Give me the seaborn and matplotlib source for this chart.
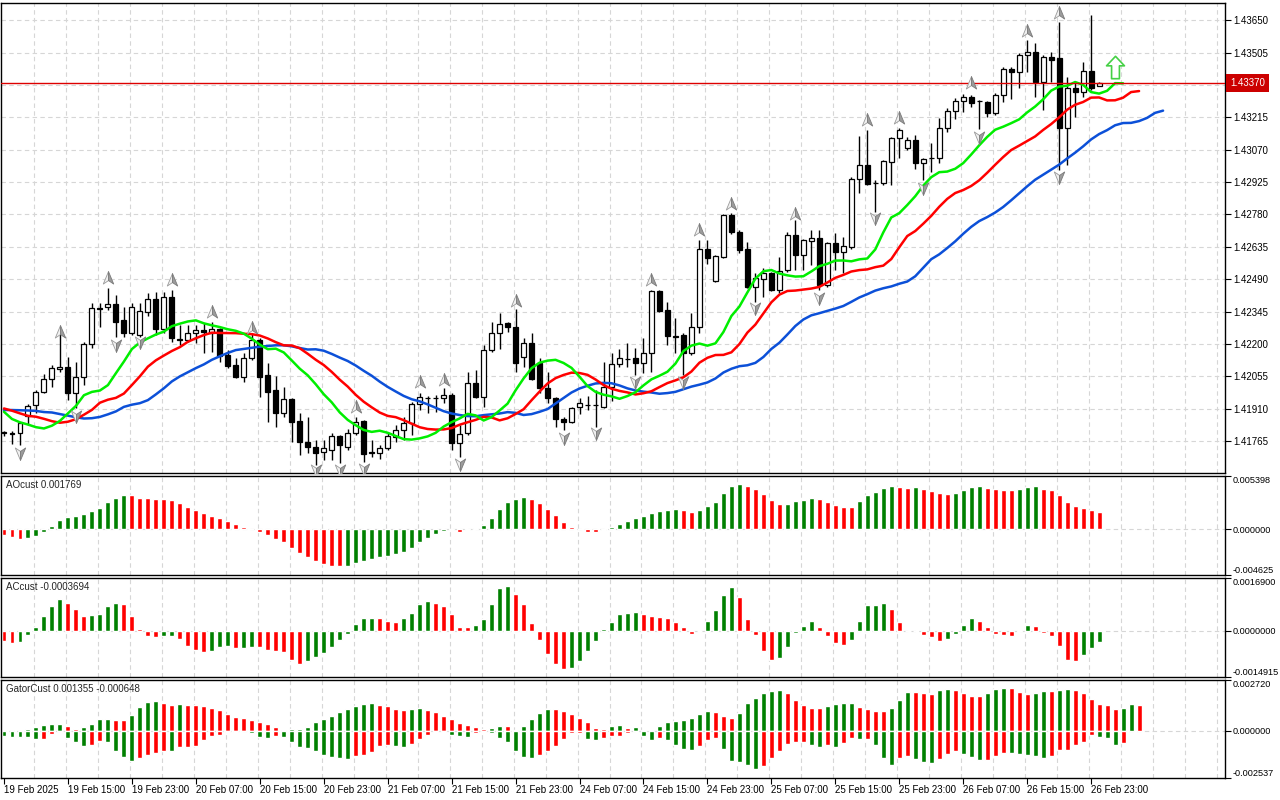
import numpy as np
import matplotlib
matplotlib.use("Agg")
import matplotlib.pyplot as plt
from matplotlib.path import Path
from matplotlib.markers import MarkerStyle
import seaborn as sns

sns.set_style("white")
plt.rcParams['font.family'] = ['Liberation Sans', 'DejaVu Sans']

POINT = 0.00001

# H1 candles
open_ = [
    1.41805, 1.41800, 1.41801, 1.41877, 1.41926, 1.41985, 1.42043, 1.42088, 1.42097, 1.41980,
    1.42052, 1.42200, 1.42361, 1.42365, 1.42379, 1.42307, 1.42249, 1.42240, 1.42343, 1.42401,
    1.42267, 1.42410, 1.42222, 1.42218, 1.42249, 1.42262, 1.42249, 1.42267, 1.42150, 1.42105,
    1.42052, 1.42137, 1.42218, 1.42061, 1.41994, 1.41891, 1.41953, 1.41855, 1.41761, 1.41738,
    1.41716, 1.41725, 1.41788, 1.41738, 1.41801, 1.41855, 1.41714, 1.41712, 1.41734, 1.41783,
    1.41814, 1.41846, 1.41931, 1.41958, 1.41960, 1.41958, 1.41971, 1.41756, 1.41801, 1.42025,
    1.41962, 1.42173, 1.42249, 1.42294, 1.42276, 1.42141, 1.42204, 1.42115, 1.42003, 1.41958,
    1.41864, 1.41850, 1.41917, 1.41926, 1.41928, 1.41917, 1.42007, 1.42110, 1.42132, 1.42137,
    1.42115, 1.42159, 1.42437, 1.42352, 1.42235, 1.42240, 1.42159, 1.42276, 1.42625, 1.42482,
    1.42589, 1.42777, 1.42701, 1.42625, 1.42455, 1.42491, 1.42517, 1.42441, 1.42531, 1.42688,
    1.42598, 1.42661, 1.42674, 1.42464, 1.42652, 1.42612, 1.42634, 1.42938, 1.43001, 1.42921,
    1.42921, 1.43015, 1.43122, 1.43077, 1.43113, 1.43010, 1.43032, 1.43032, 1.43167, 1.43243,
    1.43288, 1.43306, 1.43288, 1.43283, 1.43234, 1.43315, 1.43431, 1.43418, 1.43494, 1.43507,
    1.43373, 1.43485, 1.43480, 1.43167, 1.43346, 1.43328, 1.43422, 1.43355]
high = [
    1.41810, 1.41808, 1.41850, 1.41931, 1.41994, 1.42065, 1.42106, 1.42249, 1.42141, 1.42119,
    1.42209, 1.42383, 1.42383, 1.42450, 1.42419, 1.42365, 1.42383, 1.42383, 1.42428, 1.42432,
    1.42432, 1.42441, 1.42285, 1.42285, 1.42285, 1.42294, 1.42298, 1.42271, 1.42173, 1.42137,
    1.42159, 1.42249, 1.42226, 1.42115, 1.42056, 1.42007, 1.41958, 1.41891, 1.41873, 1.41770,
    1.41770, 1.41801, 1.41792, 1.41819, 1.41873, 1.41859, 1.41770, 1.41747, 1.41801, 1.41837,
    1.41873, 1.41940, 1.41980, 1.41966, 1.41971, 1.42003, 1.41980, 1.41837, 1.42074, 1.42083,
    1.42195, 1.42298, 1.42338, 1.42298, 1.42356, 1.42226, 1.42249, 1.42137, 1.42074, 1.41962,
    1.41873, 1.41917, 1.41958, 1.41967, 1.41994, 1.42119, 1.42159, 1.42177, 1.42204, 1.42182,
    1.42226, 1.42441, 1.42441, 1.42388, 1.42316, 1.42249, 1.42338, 1.42665, 1.42665, 1.42598,
    1.42782, 1.42786, 1.42710, 1.42656, 1.42517, 1.42540, 1.42522, 1.42589, 1.42701, 1.42755,
    1.42670, 1.42710, 1.42710, 1.42656, 1.42697, 1.42679, 1.42947, 1.43131, 1.43158, 1.42934,
    1.43024, 1.43127, 1.43167, 1.43127, 1.43135, 1.43032, 1.43100, 1.43212, 1.43256, 1.43301,
    1.43319, 1.43315, 1.43292, 1.43288, 1.43324, 1.43440, 1.43440, 1.43503, 1.43561, 1.43547,
    1.43494, 1.43507, 1.43641, 1.43395, 1.43373, 1.43462, 1.43673, 1.43373]
low = [
    1.41788, 1.41752, 1.41747, 1.41837, 1.41891, 1.41980, 1.42007, 1.42074, 1.41949, 1.41913,
    1.42016, 1.42182, 1.42276, 1.42352, 1.42231, 1.42231, 1.42240, 1.42231, 1.42325, 1.42240,
    1.42249, 1.42209, 1.42195, 1.42209, 1.42204, 1.42159, 1.42164, 1.42119, 1.42092, 1.42047,
    1.42029, 1.42128, 1.41962, 1.41850, 1.41828, 1.41873, 1.41761, 1.41703, 1.41712, 1.41658,
    1.41680, 1.41680, 1.41667, 1.41725, 1.41792, 1.41671, 1.41694, 1.41685, 1.41725, 1.41761,
    1.41770, 1.41792, 1.41904, 1.41891, 1.41895, 1.41935, 1.41725, 1.41694, 1.41792, 1.41958,
    1.41917, 1.42164, 1.42177, 1.42253, 1.42074, 1.42097, 1.42038, 1.41980, 1.41935, 1.41828,
    1.41814, 1.41846, 1.41886, 1.41904, 1.41828, 1.41913, 1.41944, 1.42097, 1.42097, 1.42061,
    1.42070, 1.42074, 1.42343, 1.42195, 1.42159, 1.42061, 1.42150, 1.42249, 1.42558, 1.42477,
    1.42585, 1.42692, 1.42607, 1.42450, 1.42388, 1.42410, 1.42437, 1.42428, 1.42522, 1.42531,
    1.42531, 1.42553, 1.42441, 1.42455, 1.42531, 1.42517, 1.42625, 1.42876, 1.42912, 1.42791,
    1.42912, 1.42912, 1.43032, 1.43068, 1.42983, 1.42934, 1.42970, 1.43010, 1.43149, 1.43207,
    1.43238, 1.43261, 1.43162, 1.43216, 1.43225, 1.43283, 1.43297, 1.43346, 1.43418, 1.43306,
    1.43247, 1.43373, 1.42979, 1.43001, 1.43216, 1.43306, 1.43337, 1.43355]
close = [
    1.41800, 1.41798, 1.41846, 1.41922, 1.41985, 1.42043, 1.42092, 1.42097, 1.41980, 1.42052,
    1.42200, 1.42361, 1.42356, 1.42379, 1.42298, 1.42249, 1.42365, 1.42347, 1.42401, 1.42267,
    1.42410, 1.42226, 1.42217, 1.42249, 1.42262, 1.42255, 1.42267, 1.42146, 1.42101, 1.42052,
    1.42137, 1.42218, 1.42052, 1.41985, 1.41891, 1.41953, 1.41850, 1.41761, 1.41738, 1.41712,
    1.41734, 1.41788, 1.41747, 1.41801, 1.41850, 1.41707, 1.41710, 1.41734, 1.41788, 1.41814,
    1.41846, 1.41931, 1.41962, 1.41960, 1.41958, 1.41971, 1.41756, 1.41797, 1.42025, 1.41962,
    1.42173, 1.42249, 1.42289, 1.42276, 1.42115, 1.42204, 1.42043, 1.42003, 1.41958, 1.41864,
    1.41850, 1.41913, 1.41935, 1.41928, 1.41926, 1.42007, 1.42110, 1.42137, 1.42134, 1.42115,
    1.42159, 1.42437, 1.42347, 1.42235, 1.42233, 1.42159, 1.42276, 1.42625, 1.42585, 1.42594,
    1.42777, 1.42701, 1.42620, 1.42455, 1.42495, 1.42517, 1.42441, 1.42526, 1.42688, 1.42598,
    1.42665, 1.42674, 1.42464, 1.42652, 1.42612, 1.42638, 1.42938, 1.43001, 1.42916, 1.42919,
    1.43019, 1.43122, 1.43158, 1.43113, 1.43010, 1.43028, 1.43034, 1.43167, 1.43243, 1.43288,
    1.43306, 1.43279, 1.43286, 1.43234, 1.43315, 1.43431, 1.43418, 1.43494, 1.43507, 1.43373,
    1.43485, 1.43471, 1.43167, 1.43346, 1.43328, 1.43422, 1.43346, 1.43370]

# alligator values on the first bars (before the shifted lines start)
jaw_head = [1.41904, 1.41904, 1.41903, 1.41902, 1.41900, 1.41895, 1.41893, 1.41886]
teeth_head = [1.41911, 1.41901, 1.41889, 1.41878, 1.41874]
lips_head = [1.41896, 1.41864, 1.41849]

# fractals
up_fractal_bars = [7, 13, 21, 26, 31, 44, 52, 55, 64, 81, 87, 91, 99, 108, 112, 121, 128, 132]
up_fractal_prices = [1.42253, 1.42495, 1.42486, 1.42343, 1.42271, 1.41917, 1.42029, 1.42038, 1.42392,
                     1.42486, 1.42710, 1.42826, 1.42782, 1.43203, 1.43212, 1.43368, 1.43601, 1.43682]
down_fractal_bars = [2, 9, 14, 17, 39, 42, 45, 57, 70, 74, 79, 85, 94, 102, 109, 115, 122, 132]
down_fractal_prices = [1.41711, 1.41877, 1.42195, 1.42209, 1.41635, 1.41635, 1.41640, 1.41662, 1.41779,
                       1.41801, 1.42029, 1.42029, 1.42361, 1.42406, 1.42764, 1.42898, 1.43127, 1.42947]
signal_bar = 139
signal_price = 1.43440

# oscillators, in points
ao_pts = [
    -58, -75, -98, -85, -64, -24, 34, 95, 125, 139,
    159, 186, 220, 278, 319, 349, 346, 322, 315, 308,
    305, 292, 271, 227, 197, 170, 136, 119, 85, 54,
    24, 3, -24, -58, -98, -129, -186, -244, -278, -319,
    -353, -370, -373, -369, -339, -319, -298, -285, -271, -254,
    -227, -190, -129, -88, -44, -14, -7, -24, -3, 10,
    44, 112, 203, 278, 305, 329, 305, 268, 207, 146,
    75, 24, 3, -24, -27, -3, 24, 54, 85, 115,
    136, 166, 183, 197, 207, 197, 180, 197, 237, 278,
    370, 441, 461, 441, 410, 359, 298, 258, 261, 288,
    298, 319, 312, 278, 247, 227, 224, 288, 349, 373,
    420, 441, 431, 420, 431, 410, 390, 366, 359, 370,
    400, 431, 434, 420, 410, 400, 397, 410, 431, 434,
    410, 400, 349, 278, 237, 214, 197, 177]
ac_pts = [
    -32, -41, -38, -14, 13, 46, 78, 103, 90, 68,
    46, 50, 52, 78, 90, 84, 46, 5, -18, -22,
    -18, -17, -27, -51, -61, -68, -65, -54, -51, -57,
    -55, -53, -54, -61, -65, -70, -94, -106, -97, -86,
    -73, -54, -30, -11, 22, 40, 41, 40, 32, 26,
    40, 57, 87, 94, 89, 78, 52, 13, 11, 19,
    36, 87, 136, 142, 118, 84, 25, -30, -75, -108,
    -122, -121, -97, -67, -34, 5, 29, 52, 58, 61,
    52, 48, 45, 39, 29, 10, -11, -2, 32, 65,
    113, 139, 107, 36, -15, -67, -93, -89, -54, -9,
    16, 32, 13, -18, -41, -47, -31, 32, 81, 82,
    90, 68, 29, -2, -1, -15, -22, -34, -28, -12,
    19, 39, 32, 10, -12, -15, -16, 1, 19, 16,
    -9, -18, -51, -93, -99, -80, -57, -37]
gator_up_pts = [
    2, 2, 1, 11, 18, 29, 34, 36, 23, 9,
    22, 34, 63, 65, 58, 57, 86, 125, 156, 158,
    149, 140, 141, 140, 138, 131, 122, 109, 91, 75,
    70, 59, 47, 38, 18, 5, 7, 9, 21, 48,
    64, 81, 102, 118, 134, 145, 147, 140, 134, 118,
    113, 118, 124, 113, 102, 81, 64, 41, 32, 21,
    11, 16, 27, 25, 5, 27, 64, 97, 118, 116,
    107, 91, 70, 48, 16, 11, 27, 29, 16, 21,
    5, 4, 27, 48, 54, 55, 70, 91, 107, 102,
    81, 70, 97, 150, 177, 204, 215, 220, 204, 166,
    140, 124, 122, 134, 145, 147, 149, 129, 118, 107,
    106, 124, 166, 209, 208, 204, 199, 220, 226, 220,
    204, 188, 186, 204, 226, 231, 229, 209, 199, 204,
    213, 211, 220, 226, 220, 204, 172, 145, 140, 118,
    120, 143, 136]
gator_down_pts = [
    -31, -34, -34, -34, -45, -43, -18, -2, -40, -61,
    -83, -77, -56, -61, -107, -141, -165, -149, -129, -118,
    -107, -109, -90, -88, -81, -52, -30, -21, -9, -5,
    -4, -13, -36, -41, -30, -36, -63, -90, -95, -107,
    -129, -141, -149, -150, -138, -129, -113, -81, -75, -84,
    -86, -70, -45, -25, -7, -5, -25, -27, -34, -13,
    -9, -11, -41, -63, -107, -141, -149, -129, -107, -84,
    -45, -14, -13, -45, -52, -41, -30, -30, -14, -4,
    -30, -52, -41, -52, -75, -97, -106, -84, -52, -41,
    -97, -165, -170, -186, -206, -190, -149, -111, -70, -63,
    -61, -79, -90, -79, -86, -68, -41, -47, -45, -79,
    -149, -186, -149, -138, -154, -170, -175, -154, -124, -111,
    -124, -143, -159, -158, -138, -118, -120, -127, -132, -138,
    -149, -138, -106, -104, -79, -63, -23, -36, -41, -79,
    -64]

price_ticks = [1.41765, 1.41910, 1.42055, 1.42200, 1.42345, 1.42490, 1.42635,
               1.42780, 1.42925, 1.43070, 1.43215, 1.43360, 1.43505, 1.43650]
time_labels = ["19 Feb 2025", "19 Feb 15:00", "19 Feb 23:00", "20 Feb 07:00", "20 Feb 15:00",
               "20 Feb 23:00", "21 Feb 07:00", "21 Feb 15:00", "21 Feb 23:00", "24 Feb 07:00",
               "24 Feb 15:00", "24 Feb 23:00", "25 Feb 07:00", "25 Feb 15:00", "25 Feb 23:00",
               "26 Feb 07:00", "26 Feb 15:00", "26 Feb 23:00"]

GREEN = '#008000'
RED = '#ff0000'

o, h, l, c = map(np.array, (open_, high, low, close))
bars = np.arange(len(c))
median = (h + l) / 2


def smma(values, period, seed):
    out = []
    s = seed
    for v in values:
        s = (s * (period - 1) + v) / period
        out.append(s)
    return out


jaw = jaw_head + smma(median, 13, jaw_head[-1])
teeth = teeth_head + smma(median, 8, teeth_head[-1])
lips = lips_head + smma(median, 5, lips_head[-1])


def trend_colors(vals, first):
    cols = [first]
    for prev, cur in zip(vals[:-1], vals[1:]):
        if cur > prev:
            cols.append(GREEN)
        elif cur < prev:
            cols.append(RED)
        else:
            cols.append(cols[-1])
    return cols


ao = np.array(ao_pts) * POINT
ac = np.array(ac_pts) * POINT
g_up = np.array(gator_up_pts) * POINT
g_dn = np.array(gator_down_pts) * POINT

fig = plt.figure(figsize=(12.8, 8), dpi=100)
left, width = 1 / 1280, 1224 / 1280
ax = fig.add_axes([left, 1 - 473 / 800, width, 470 / 800])
ax_ao = fig.add_axes([left, 1 - 575 / 800, width, 99 / 800])
ax_ac = fig.add_axes([left, 1 - 677 / 800, width, 99 / 800])
ax_gt = fig.add_axes([left, 1 - 778 / 800, width, 98 / 800])

grid_kw = dict(color='#d6d6d6', linestyle=(0, (4, 3)), linewidth=0.8, zorder=0)
for a in (ax, ax_ao, ax_ac, ax_gt):
    a.set_xlim(-0.375, 152.75)
    for gx in np.arange(3.75, 153, 4):
        a.axvline(gx, **grid_kw)
    for s in a.spines.values():
        s.set_color('black')
        s.set_linewidth(1)
    a.yaxis.tick_right()
    a.tick_params(axis='y', right=True, left=False, direction='out', length=4, width=0.8,
                  pad=2, labelsize=7, colors='black')
    a.tick_params(axis='x', bottom=False, labelbottom=False)

# main price panel
last_price = close[-1]
ax.set_ylim(1.41622, 1.43727)
ax.set_yticks(price_ticks)
# the tick right under the current-price box is hidden by it, as in the terminal
ax.set_yticklabels(['' if abs(p - last_price) < 0.0002 else f'{p:.5f}' for p in price_ticks])
for p in price_ticks:
    ax.axhline(p, **grid_kw)

ax.vlines(bars, l, h, color='black', linewidth=1, zorder=2)
ax.bar(bars, np.abs(c - o), bottom=np.minimum(o, c), width=0.62,
       color=np.where(c >= o, 'white', 'black'), edgecolor='black', linewidth=0.9, zorder=3)

sns.lineplot(x=np.arange(len(jaw)), y=jaw, ax=ax, color='#0c50d8', linewidth=1.8, zorder=4, errorbar=None)
sns.lineplot(x=np.arange(len(teeth)), y=teeth, ax=ax, color='#ff0000', linewidth=1.8, zorder=4, errorbar=None)
sns.lineplot(x=np.arange(len(lips)), y=lips, ax=ax, color='#00ee00', linewidth=1.8, zorder=4, errorbar=None)

up_left = Path([(0, 1), (0, -0.3), (-0.75, -0.8), (0, 1)], closed=True)
up_right = Path([(0, 1), (0.75, -0.8), (0, -0.3), (0, 1)], closed=True)
dn_left = Path([(0, -1), (0, 0.3), (-0.75, 0.8), (0, -1)], closed=True)
dn_right = Path([(0, -1), (0.75, 0.8), (0, 0.3), (0, -1)], closed=True)
for xs, ys, pl, pr in ((up_fractal_bars, up_fractal_prices, up_left, up_right),
                       (down_fractal_bars, down_fractal_prices, dn_left, dn_right)):
    ax.scatter(xs, ys, marker=MarkerStyle(pl), s=100, c='#f0f0f0', edgecolors='#9a9a9a',
               linewidths=0.6, zorder=5)
    ax.scatter(xs, ys, marker=MarkerStyle(pr), s=100, c='#9c9c9c', edgecolors='#7a7a7a',
               linewidths=0.6, zorder=5)

block_arrow = Path([(0, 1), (0.8, 0.15), (0.35, 0.15), (0.35, -1), (-0.35, -1),
                    (-0.35, 0.15), (-0.8, 0.15), (0, 1)], closed=True)
ax.scatter([signal_bar], [signal_price], marker=MarkerStyle(block_arrow), s=260, c='white',
           edgecolors='#45d045', linewidths=1.2, zorder=6)

ax.axhline(last_price, color='#dd0000', linewidth=1, zorder=4)
ax.text(1.004, last_price, f'{last_price:.5f}', transform=ax.get_yaxis_transform(),
        color='white', fontsize=7, va='center', ha='left', zorder=10, clip_on=False,
        bbox=dict(boxstyle='square,pad=0.4', fc='#cc0000', ec='none'))


def oscillator_axis(a, lo, hi, fmt, title):
    a.set_ylim(lo, hi)
    a.set_yticks([lo, 0, hi])
    a.set_yticklabels([fmt % lo, fmt % 0, fmt % hi])
    a.tick_params(axis='y', labelsize=6.6, pad=1.5)
    labs = a.get_yticklabels()
    labs[0].set_va('bottom')
    labs[2].set_va('top')
    a.axhline(0, **grid_kw)
    a.text(0.004, 0.96, title, transform=a.transAxes, fontsize=7, va='top', ha='left')


ax_ao.bar(bars, ao, width=0.62, color=trend_colors(ao, RED), zorder=2)
oscillator_axis(ax_ao, -0.004625, 0.005398, '%.6f', 'AOcust 0.001769')

ax_ac.bar(bars, ac, width=0.62, color=trend_colors(ac, RED), zorder=2)
oscillator_axis(ax_ac, -0.0014915, 0.0016900, '%.7f', 'ACcust -0.0003694')

ax_gt.bar(np.arange(len(g_up)), g_up, width=0.62, color=trend_colors(g_up, GREEN), zorder=2)
ax_gt.bar(np.arange(len(g_dn)), g_dn, width=0.62, color=trend_colors(-g_dn, GREEN), zorder=2)
oscillator_axis(ax_gt, -0.002537, 0.002720, '%.6f', 'GatorCust 0.001355 -0.000648')

ax_gt.set_xticks(np.arange(0, len(c), 8))
ax_gt.set_xticklabels(time_labels, ha='left')
ax_gt.tick_params(axis='x', bottom=True, labelbottom=True, direction='out', length=4,
                  width=0.8, pad=1, labelsize=7, colors='black')

fig.savefig('out.png', dpi=100)
